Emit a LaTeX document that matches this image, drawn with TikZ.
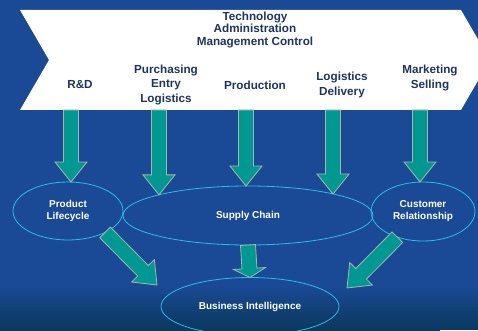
\documentclass[tikz,border=0pt]{standalone}
\usepackage{fontspec}
\setmainfont{Liberation Sans}
\usetikzlibrary{shapes.geometric,calc}

\definecolor{slideblue}{RGB}{26,74,150}
\definecolor{slidedark}{RGB}{10,56,92}
\definecolor{navytext}{RGB}{30,52,98}
\definecolor{arrowteal}{RGB}{0,153,146}
\definecolor{arrowrim}{RGB}{170,182,165}
\definecolor{ringcyan}{RGB}{40,190,235}

\tikzset{
  chevlabel/.style={align=center,text=navytext,font=\fontsize{11.7}{14.2}\selectfont\bfseries},
  area/.style={ellipse,draw=ringcyan,line width=0.8pt,inner sep=0pt,outer sep=0pt,
    align=center,text=white,font=\fontsize{10}{12}\selectfont\bfseries},
  arrowbox/.style={fill=arrowteal,draw=arrowrim,line width=0.8pt,line join=miter}
}

% block arrow from #2 to #3, head length #1
\newcommand{\blockarrow}[3][20pt]{%
  \coordinate (ba-h) at ($(#3)!#1!(#2)$);
  \filldraw[arrowbox] ($(#2)!7.5pt!90:(#3)$) -- ($(ba-h)!7.5pt!-90:(#2)$)
    -- ($(ba-h)!16pt!-90:(#2)$) -- (#3) -- ($(ba-h)!16pt!90:(#2)$)
    -- ($(ba-h)!7.5pt!90:(#2)$) -- ($(#2)!7.5pt!-90:(#3)$) -- cycle;}

\begin{document}
\begin{tikzpicture}[x=1pt,y=-1pt]
\useasboundingbox (0,0) rectangle (478,331);
\clip (0,0) rectangle (478,331);
\fill[slideblue] (0,0) rectangle (478,331);
\shade[top color=slideblue,bottom color=slidedark] (0,285) rectangle (478,331);
\fill[white] (440,329.5) rectangle (478,331);

\fill[white] (20,10) -- (461,10) -- (490,60) -- (461,110) -- (20,110) -- (49,60) -- cycle;

\node[chevlabel,font=\fontsize{11.7}{12.6}\selectfont\bfseries] (tech) at (255,30)
  {Technology\\Administration\\Management Control};
\node[chevlabel] (rd) at (80,85) {R\&D};
\node[chevlabel] (purch) at (166,85) {Purchasing\\Entry\\Logistics};
\node[chevlabel] (prod) at (255,85) {Production};
\node[chevlabel] (logdel) at (342,85) {Logistics\\Delivery};
\node[chevlabel] (mark) at (430,78) {Marketing\\Selling};

\coordinate (rd-out) at (71,110);
\coordinate (pu-out) at (159,110);
\coordinate (pr-out) at (246,110);
\coordinate (lo-out) at (333,110);
\coordinate (mk-out) at (420,110);

\node[area,minimum width=110pt,minimum height=58pt] (pl) at (68,211) {Product\\Lifecycle};
\node[area,minimum width=250pt,minimum height=59pt] (sc) at (248,215.5) {Supply Chain};
\node[area,minimum width=104pt,minimum height=59pt] (cr) at (423,211.5) {Customer\\Relationship};
\node[area,minimum width=178pt,minimum height=58pt] (bi) at (250,306.5) {Business Intelligence};

\coordinate (bi-left) at (157,285);
\coordinate (bi-right) at (347,288);

\blockarrow{rd-out}{rd-out |- pl.north}
\blockarrow{pu-out}{pu-out |- sc.167}
\blockarrow{pr-out}{pr-out |- sc.north}
\blockarrow{lo-out}{lo-out |- sc.14}
\blockarrow{mk-out}{mk-out |- cr.north}

\blockarrow{pl.-30}{bi-left}
\blockarrow[9pt]{sc.south}{bi.north}
\blockarrow{cr.225}{bi-right}
\end{tikzpicture}
\end{document}
